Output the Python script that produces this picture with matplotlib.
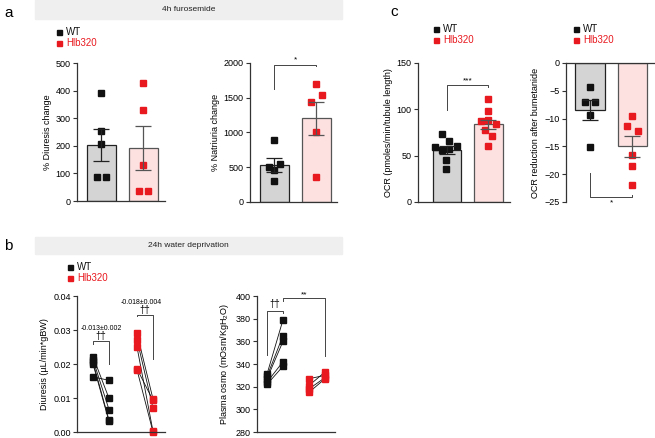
import numpy as np
import matplotlib
matplotlib.use("Agg")
import matplotlib.pyplot as plt
from matplotlib.patches import Rectangle
from matplotlib.lines import Line2D

plt.rcParams['font.family'] = ['Liberation Sans', 'DejaVu Sans']

# ---- data ----
groups = ["WT", "Hlb320"]

# a: 4h furosemide
diur_bar = [203, 191]
diur_sem = [57, 79]
diur_wt = [391, 255, 207, 86, 86]
diur_hlb = [426, 329, 130, 36, 36]

natr_bar = [530, 1205]
natr_sem = [96, 240]
natr_wt = [891, 549, 497, 458, 299]
natr_hlb = [1697, 1542, 1445, 1012, 361]

# c: OCR
ocr_bar = [56, 84]
ocr_sem = [4, 5]
ocr_wt = [73.6, 65.6, 60.5, 59, 57, 56, 45, 36]
ocr_hlb = [111.6, 97.8, 88.8, 87, 84.5, 78, 70.7, 60.9]

red_bar = [-8.5, -15.0]
red_sem = [1.8, 1.95]
red_wt = [-4.3, -7.0, -7.0, -9.3, -15.1]
red_hlb = [-9.5, -11.4, -12.2, -16.6, -18.5, -22.0]

# b: 24h water deprivation (before -> after)
wd_wt_before = [0.0222, 0.0213, 0.0205, 0.0200, 0.0162]
wd_wt_after = [0.0099, 0.0066, 0.0035, 0.0031, 0.0152]
wd_hlb_before = [0.0290, 0.0272, 0.0250, 0.0186, 0.0183]
wd_hlb_after = [0.0097, 0.0070, 0.0002, 0.0093, 0.0000]

osm_wt_before = [331, 329, 327, 324, 322]
osm_wt_after = [379, 365, 360, 342, 338]
osm_hlb_before = [327, 321, 318, 315]
osm_hlb_after = [330, 333, 328, 327]

# ---- style ----
W, H = 655, 438
BLACK = '#111111'
RED = '#e8191f'
GRAY_BAR = '#d4d4d4'
PINK_BAR = '#fde1e1'
BAND = '#efefef'
FS = 6.5

fig = plt.figure(figsize=(W / 100, H / 100), dpi=100)


def ax_px(x0, y0, x1, y1):
    return fig.add_axes([x0 / W, 1 - y1 / H, (x1 - x0) / W, (y1 - y0) / H])


def style(ax, top=False):
    ax.spines['right'].set_visible(False)
    if top:
        ax.spines['bottom'].set_visible(False)
    else:
        ax.spines['top'].set_visible(False)
    for s in ['left', 'top', 'bottom']:
        ax.spines[s].set_color('#333333')
        ax.spines[s].set_linewidth(0.9)
    ax.tick_params(axis='y', labelsize=FS, length=3, width=0.8, color='#333333', pad=1.5)
    ax.set_xticks([])
    ax.patch.set_alpha(0)


def legend_px(x, y, dy=11):
    for i, (lab, col) in enumerate(zip(groups, [BLACK, RED])):
        fig.add_artist(Line2D([x / W], [1 - (y + i * dy) / H], marker='s', ms=3.6,
                              color=col, lw=0, transform=fig.transFigure))
        fig.text((x + 7) / W, 1 - (y + i * dy) / H, lab, color=col, fontsize=7,
                 va='center', ha='left')


def band_px(x0, y0, x1, y1, text):
    fig.add_artist(Rectangle((x0 / W, 1 - y1 / H), (x1 - x0) / W, (y1 - y0) / H,
                             transform=fig.transFigure, color=BAND, zorder=0))
    fig.text((x0 + x1) / 2 / W, 1 - (y0 + y1) / 2 / H, text, fontsize=6,
             ha='center', va='center', color='#222222')


def bar_panel(ax, bars, sems, pts_wt, pts_hlb, jit_wt, jit_hlb, ms=4.3):
    cols = [GRAY_BAR, PINK_BAR]
    edges = ['#222222', '#555555']
    for i in range(2):
        ax.bar(i, bars[i], width=0.69, color=cols[i], edgecolor=edges[i], lw=0.9, zorder=1)
        ax.errorbar(i, bars[i], yerr=sems[i], color=edges[i], capsize=5.5,
                    elinewidth=0.9, capthick=0.9, zorder=3)
    ax.plot(np.array(jit_wt), pts_wt, 's', color=BLACK, ms=ms, lw=0, zorder=2)
    ax.plot(1 + np.array(jit_hlb), pts_hlb, 's', color=RED, ms=ms, lw=0, zorder=2)


def bracket(ax, x0, x1, y, yl0, yl1, txt, ty, fs=6):
    ax.plot([x0, x0, x1, x1], [yl0, y, y, yl1], color='#444444', lw=0.7,
            clip_on=False, zorder=4)
    ax.text((x0 + x1) / 2, ty, txt, ha='center', va='center', fontsize=fs,
            clip_on=False)


# ---- headers / labels ----
band_px(35, 0, 342, 19, '4h furosemide')
band_px(35, 237, 342, 254, '24h water deprivation')
fig.text(4 / W, 1 - 13 / H, 'a', fontsize=11, va='center')
fig.text(4 / W, 1 - 246 / H, 'b', fontsize=11, va='center')
fig.text(390 / W, 1 - 12 / H, 'c', fontsize=11, va='center')
legend_px(59, 32)
legend_px(70, 267)
legend_px(436, 29)
legend_px(576, 29)

# ---- a1: diuresis change ----
ax = ax_px(77, 63, 165, 201)
style(ax)
bar_panel(ax, diur_bar, diur_sem, diur_wt, diur_hlb,
          [0, 0, 0, -0.1, 0.1], [0, 0, 0, -0.1, 0.1])
ax.set_xlim(-0.583, 1.512)
ax.set_ylim(0, 500)
ax.set_yticks([0, 100, 200, 300, 400, 500])
ax.set_ylabel('% Diuresis change', fontsize=FS, labelpad=3)

# ---- a2: natriuria change ----
ax = ax_px(250, 63, 337, 202)
style(ax)
bar_panel(ax, natr_bar, natr_sem, natr_wt, natr_hlb,
          [0, 0.12, -0.12, 0, 0], [0, 0.12, -0.12, 0, 0])
ax.set_xlim(-0.583, 1.488)
ax.set_ylim(0, 2000)
ax.set_yticks([0, 500, 1000, 1500, 2000])
ax.set_ylabel('% Natriuria change', fontsize=FS, labelpad=3)
bracket(ax, 0, 1, 1976, 1624, 1950, '*', 2045)

# ---- c1: OCR ----
ax = ax_px(418, 63, 510, 202)
style(ax)
bar_panel(ax, ocr_bar, ocr_sem, ocr_wt, ocr_hlb,
          [-0.12, 0.05, 0.24, -0.29, 0.05, -0.12, -0.02, -0.02],
          [0, 0, 0, -0.18, 0.18, -0.08, 0.08, 0])
ax.set_xlim(-0.70, 1.52)
ax.set_ylim(0, 150)
ax.set_yticks([0, 50, 100, 150])
ax.set_ylabel('OCR (pmoles/min/tubule length)', fontsize=FS, labelpad=3)
bracket(ax, 0, 1, 125.8, 99, 124.5, '***', 131)

# ---- c2: OCR reduction ----
ax = ax_px(566, 63, 655, 202)
style(ax, top=True)
bar_panel(ax, red_bar, red_sem, red_wt, red_hlb,
          [0, -0.12, 0.12, 0, 0], [0, -0.12, 0.12, 0, 0, 0])
ax.set_xlim(-0.565, 1.53)
ax.set_ylim(-25, 0)
ax.set_yticks([0, -5, -10, -15, -20, -25])
ax.set_ylabel('OCR reduction after bumetanide', fontsize=FS, labelpad=3)
bracket(ax, 0, 1, -24.1, -19.7, -23.8, '*', -25.2)

# ---- b1: diuresis before/after ----
ax = ax_px(77, 296, 165, 432)
style(ax)
pos = [0, 1, 2.75, 3.75]
for b, a in zip(wd_wt_before, wd_wt_after):
    ax.plot(pos[:2], [b, a], color=BLACK, lw=0.6, zorder=1)
for b, a in zip(wd_hlb_before, wd_hlb_after):
    ax.plot(pos[2:], [b, a], color=BLACK, lw=0.6, zorder=1)
ax.plot([pos[0]] * 5, wd_wt_before, 's', color=BLACK, ms=5, zorder=2, clip_on=False)
ax.plot([pos[1]] * 5, wd_wt_after, 's', color=BLACK, ms=5, zorder=2, clip_on=False)
ax.plot([pos[2]] * 5, wd_hlb_before, 's', color=RED, ms=5, zorder=2, clip_on=False)
ax.plot([pos[3]] * 5, wd_hlb_after, 's', color=RED, ms=5, zorder=2, clip_on=False)
ax.set_xlim(-1.0, 4.5)
ax.set_ylim(0, 0.04)
ax.set_yticks([0, 0.01, 0.02, 0.03, 0.04])
ax.set_yticklabels(['0.00', '0.01', '0.02', '0.03', '0.04'])
ax.set_ylabel('Diuresis (µL/min*gBW)', fontsize=FS, labelpad=3)
bracket(ax, pos[0], pos[1], 0.0267, 0.0260, 0.0200, '††', 0.0282, fs=7)
ax.text(0.5, 0.0305, '-0.013±0.002', ha='center', va='center', fontsize=5)
bracket(ax, pos[2], pos[3], 0.0345, 0.0340, 0.0214, '††', 0.0358, fs=7)
ax.text(3.0, 0.0381, '-0.018±0.004', ha='center', va='center', fontsize=5)

# ---- b2: plasma osmolality ----
ax = ax_px(257, 296, 335, 432)
style(ax)
pos = [0, 1, 2.625, 3.625]
for b, a in zip(osm_wt_before, osm_wt_after):
    ax.plot(pos[:2], [b, a], color=BLACK, lw=0.6, zorder=1)
for b, a in zip(osm_hlb_before, osm_hlb_after):
    ax.plot(pos[2:], [b, a], color=BLACK, lw=0.6, zorder=1)
ax.plot([pos[0]] * len(osm_wt_before), osm_wt_before, 's', color=BLACK, ms=5, zorder=2)
ax.plot([pos[1]] * len(osm_wt_after), osm_wt_after, 's', color=BLACK, ms=5, zorder=2)
ax.plot([pos[2]] * len(osm_hlb_before), osm_hlb_before, 's', color=RED, ms=5, zorder=2)
ax.plot([pos[3]] * len(osm_hlb_after), osm_hlb_after, 's', color=RED, ms=5, zorder=2)
ax.set_xlim(-0.625, 4.25)
ax.set_ylim(280, 400)
ax.set_yticks([280, 300, 320, 340, 360, 380, 400])
ax.set_ylabel('Plasma osmo (mOsm/KgH$_{\\mathregular{2}}$O)', fontsize=FS, labelpad=3)
bracket(ax, pos[0], pos[1], 387, 348, 385, '††', 393, fs=7)
bracket(ax, pos[1], pos[3], 398, 396, 347, '**', 401)

fig.savefig('out.png', dpi=100)
